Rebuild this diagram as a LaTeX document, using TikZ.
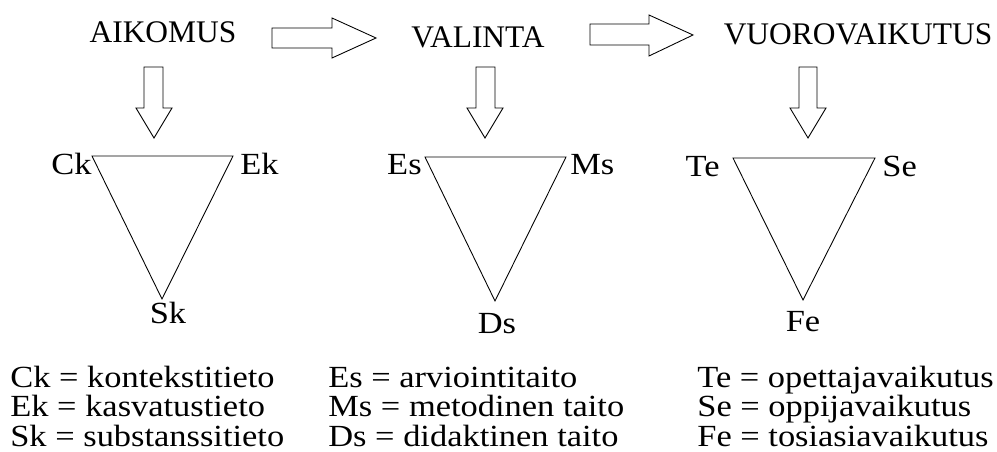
\documentclass[tikz,border=0pt]{standalone}
\usepackage{fontspec}
\setmainfont{Liberation Serif}
\newfontfamily\labelfont[FakeStretch=1.12]{Liberation Serif}
\tikzset{
    title/.style={inner sep=0pt, anchor=base, font=\fontsize{17.9}{20}\selectfont},
    vertex/.style={inner sep=0pt, font=\labelfont\fontsize{17.5}{19}\selectfont},
    legend/.style={inner sep=0pt, anchor=base west, font=\labelfont\fontsize{17.5}{19}\selectfont},
    blockarrow/.style={draw, fill=white, line width=0.5pt, line join=miter},
    triangle/.style={draw, line width=0.5pt}
}
\begin{document}
\begin{tikzpicture}[x=0.02cm, y=-0.02cm]
    \useasboundingbox (0,0) rectangle (997,452);
    % titles
    \node [title] (aikomus) at (163,43) {AIKOMUS};
    \node [title] (valinta) at (478,48) {VALINTA};
    \node [title] (vuoro) at (858,45) {VUOROVAIKUTUS};
    % arrows between titles
    \draw [blockarrow] (272,28) -- (332,28) -- (332,18) -- (376,38) -- (332,58) -- (332,48) -- (272,48) -- cycle;
    \draw [blockarrow] (590,24) -- (649,24) -- (649,15) -- (693,35) -- (649,56) -- (649,45) -- (590,45) -- cycle;
    % arrows down
    \draw [blockarrow] (144,67) -- (163,67) -- (163,108) -- (172,108) -- (154,138) -- (136,108) -- (144,108) -- cycle;
    \draw [blockarrow] (476,67) -- (495,67) -- (495,108) -- (503,108) -- (485,138) -- (467,108) -- (476,108) -- cycle;
    \draw [blockarrow] (799,67) -- (817,67) -- (817,108) -- (826,108) -- (808,138) -- (790,108) -- (799,108) -- cycle;
    % triangles
    \coordinate (ck) at (92,156);
    \coordinate (ek) at (233,156);
    \coordinate (sk) at (162,299);
    \draw [triangle] (ck) -- (ek) -- (sk) -- cycle;
    \coordinate (es) at (425,157);
    \coordinate (ms) at (566,157);
    \coordinate (ds) at (495,301);
    \draw [triangle] (es) -- (ms) -- (ds) -- cycle;
    \coordinate (te) at (733,158);
    \coordinate (se) at (875,158);
    \coordinate (fe) at (803,300);
    \draw [triangle] (te) -- (se) -- (fe) -- cycle;
    % corner letters
    \node [vertex, anchor=base east] (ckl) at (92,175) {Ck};
    \node [vertex, anchor=base west] (ekl) at (240,175) {Ek};
    \node [vertex, anchor=base] (skl) at (168,324) {Sk};
    \node [vertex, anchor=base east] (esl) at (422,175) {Es};
    \node [vertex, anchor=base west] (msl) at (570,175) {Ms};
    \node [vertex, anchor=base] (dsl) at (497,334) {Ds};
    \node [vertex, anchor=base east] (tel) at (720,177) {Te};
    \node [vertex, anchor=base west] (sel) at (882,177) {Se};
    \node [vertex, anchor=base] (fel) at (803,332) {Fe};
    % legend
    \node [legend] (lck) at (10,387) {Ck = kontekstitieto};
    \node [legend] (lek) at (10,417) {Ek = kasvatustieto};
    \node [legend] (lsk) at (10,446) {Sk = substanssitieto};
    \node [legend] (les) at (328,387) {Es = arviointitaito};
    \node [legend] (lms) at (328,417) {Ms = metodinen taito};
    \node [legend] (lds) at (328,446) {Ds = didaktinen taito};
    \node [legend] (lte) at (697,387) {Te = opettajavaikutus};
    \node [legend] (lse) at (697,417) {Se = oppijavaikutus};
    \node [legend] (lfe) at (697,446) {Fe = tosiasiavaikutus};
\end{tikzpicture}
\end{document}
